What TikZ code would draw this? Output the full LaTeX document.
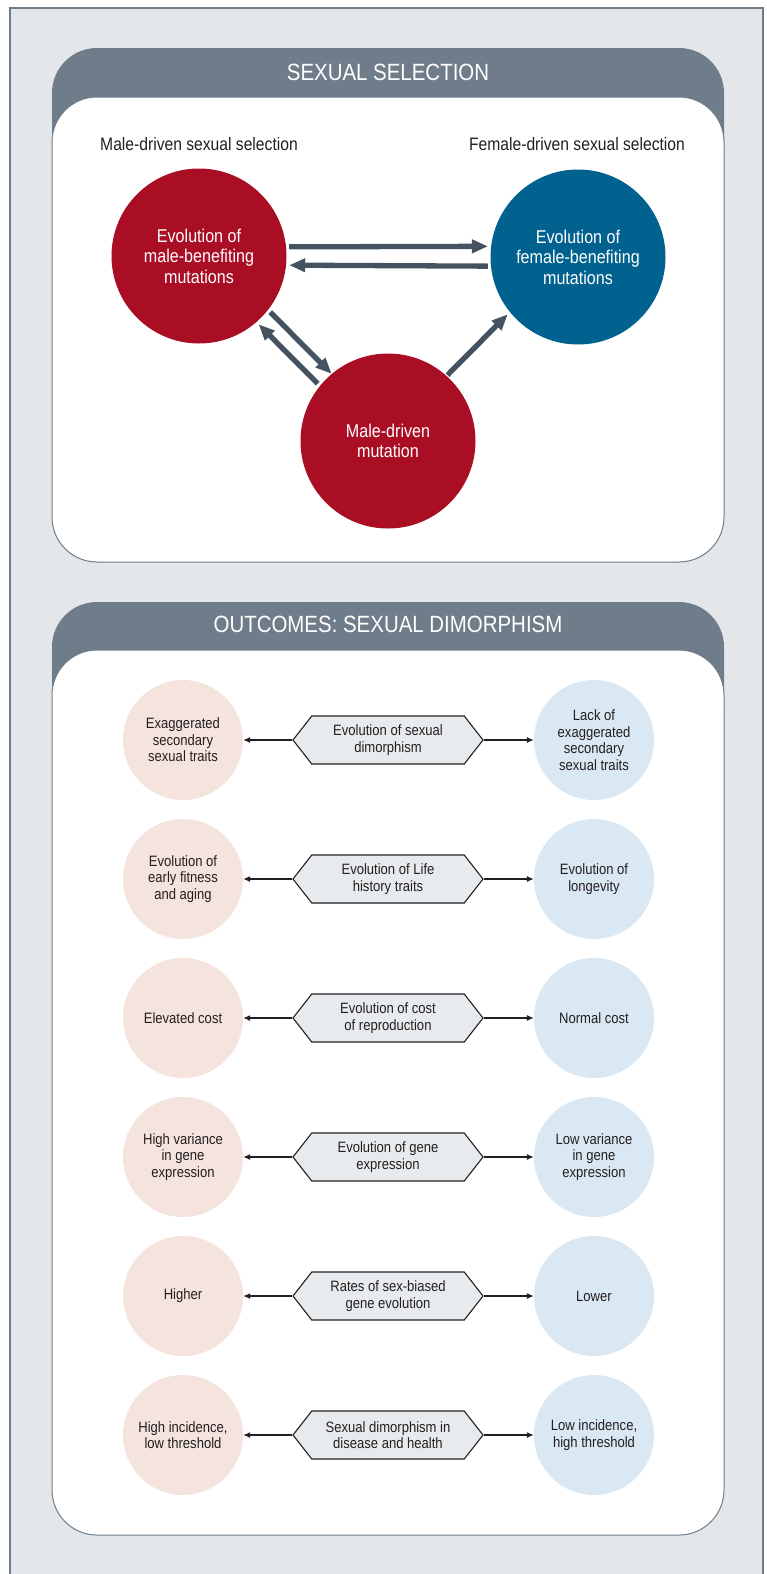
\documentclass[tikz,border=0pt]{standalone}
\usepackage{fontspec}
\setmainfont[FakeStretch=0.87]{Liberation Sans}
\usetikzlibrary{positioning,arrows.meta,shapes.symbols}

\definecolor{framegray}{HTML}{6F7D8A}
\definecolor{framebg}{HTML}{E3E7EA}
\definecolor{arrowgray}{HTML}{44535F}
\definecolor{malered}{HTML}{AA0E25}
\definecolor{femaleblue}{HTML}{01628F}
\definecolor{palered}{HTML}{F5E4DE}
\definecolor{paleblue}{HTML}{D9E8F3}
\definecolor{hexfill}{HTML}{E8EBED}
\definecolor{textdark}{HTML}{231F20}

\tikzset{headtext/.style={text=white,inner sep=0pt,font=\fontsize{23.5}{26}\selectfont},
  sidelabel/.style={text=textdark,inner sep=0pt,font=\fontsize{18}{20}\selectfont},
  bigcirc/.style={circle,minimum size=175pt,inner sep=0pt,text=white,align=center,font=\fontsize{18.5}{20.5}\selectfont},
  smallcirc/.style={circle,minimum size=120pt,inner sep=0pt,text=textdark,align=center,font=\fontsize{15}{16.5}\selectfont},
  hexbox/.style={signal,signal to=east and west,signal pointer angle=104,draw=textdark,line width=1.1pt,fill=hexfill,
    minimum width=190pt,minimum height=48pt,inner sep=0pt,text=textdark,align=center,font=\fontsize{15}{16.5}\selectfont},
  fatarrow/.style={draw=arrowgray,line width=5.3pt,-{Triangle[length=16pt,width=13pt]},shorten <=3pt,shorten >=3pt},
  thinarrow/.style={draw=textdark,line width=1.1pt,-{Latex[length=7pt,width=6pt]}},
}

\begin{document}
\begin{tikzpicture}[x=1pt,y=-1pt]
	\useasboundingbox (0,0) rectangle (766,1574);
	% frame and the two panels
	\draw[framegray,fill=framebg,line width=2.5pt] (10,8) rectangle (763,1600);
	\fill[framegray,rounded corners=45pt] (52,48) rectangle (724,200);
	\draw[framegray,fill=white,line width=1pt,rounded corners=45pt] (52,97) rectangle (724,562);
	\fill[framegray,rounded corners=45pt] (52,602) rectangle (724,760);
	\draw[framegray,fill=white,line width=1pt,rounded corners=45pt] (52,650) rectangle (724,1535);

	\node[headtext] (selhead) at (388,72) {SEXUAL SELECTION};
	\node[headtext] (dimhead) at (388,624) {OUTCOMES: SEXUAL DIMORPHISM};

	% sexual selection
	\node[sidelabel] (mss) at (199,144) {Male-driven sexual selection};
	\node[sidelabel] (fss) at (577,144) {Female-driven sexual selection};
	\node[bigcirc,fill=malered] (mbm) at (199,256) {Evolution of\\male-benefiting\\mutations};
	\node[bigcirc,fill=femaleblue] (fbm) at (578,257) {Evolution of\\female-benefiting\\mutations};
	\node[bigcirc,fill=malered] (mdm) at (388,441) {Male-driven\\mutation};

	\draw[fatarrow] (mbm.6) -- (fbm.173);
	\draw[fatarrow] (fbm.186) -- (mbm.-6);
	\draw[fatarrow,shorten >=0pt] (mbm.-38) -- (mdm.130);
	\draw[fatarrow] (mdm.141) -- (mbm.-49);
	\draw[fatarrow,shorten <=1pt] (mdm.48) -- (fbm.219);

	% outcomes
	\node[smallcirc,fill=palered] (l1) at (183,740) {Exaggerated\\secondary\\sexual traits};
	\node[hexbox] (h1) at (388,740) {Evolution of sexual\\dimorphism};
	\node[smallcirc,fill=paleblue] (r1) at (594,740) {Lack of\\exaggerated\\secondary\\sexual traits};

	\node[smallcirc,fill=palered] (l2) at (183,879) {Evolution of\\early fitness\\and aging};
	\node[hexbox] (h2) at (388,879) {Evolution of Life\\history traits};
	\node[smallcirc,fill=paleblue] (r2) at (594,879) {Evolution of\\longevity};

	\node[smallcirc,fill=palered] (l3) at (183,1018) {Elevated cost};
	\node[hexbox] (h3) at (388,1018) {Evolution of cost\\of reproduction};
	\node[smallcirc,fill=paleblue] (r3) at (594,1018) {Normal cost};

	\node[smallcirc,fill=palered] (l4) at (183,1157) {High variance\\in gene\\expression};
	\node[hexbox] (h4) at (388,1157) {Evolution of gene\\expression};
	\node[smallcirc,fill=paleblue] (r4) at (594,1157) {Low variance\\in gene\\expression};

	\node[smallcirc,fill=palered] (l5) at (183,1296) {Higher};
	\node[hexbox] (h5) at (388,1296) {Rates of sex-biased\\gene evolution};
	\node[smallcirc,fill=paleblue] (r5) at (594,1296) {Lower};

	\node[smallcirc,fill=palered] (l6) at (183,1435) {High incidence,\\low threshold};
	\node[hexbox] (h6) at (388,1435) {Sexual dimorphism in\\disease and health};
	\node[smallcirc,fill=paleblue] (r6) at (594,1435) {Low incidence,\\high threshold};

	\draw[thinarrow] (h1.west) -- (l1.east);
	\draw[thinarrow] (h1.east) -- (r1.west);
	\draw[thinarrow] (h2.west) -- (l2.east);
	\draw[thinarrow] (h2.east) -- (r2.west);
	\draw[thinarrow] (h3.west) -- (l3.east);
	\draw[thinarrow] (h3.east) -- (r3.west);
	\draw[thinarrow] (h4.west) -- (l4.east);
	\draw[thinarrow] (h4.east) -- (r4.west);
	\draw[thinarrow] (h5.west) -- (l5.east);
	\draw[thinarrow] (h5.east) -- (r5.west);
	\draw[thinarrow] (h6.west) -- (l6.east);
	\draw[thinarrow] (h6.east) -- (r6.west);
\end{tikzpicture}
\end{document}
